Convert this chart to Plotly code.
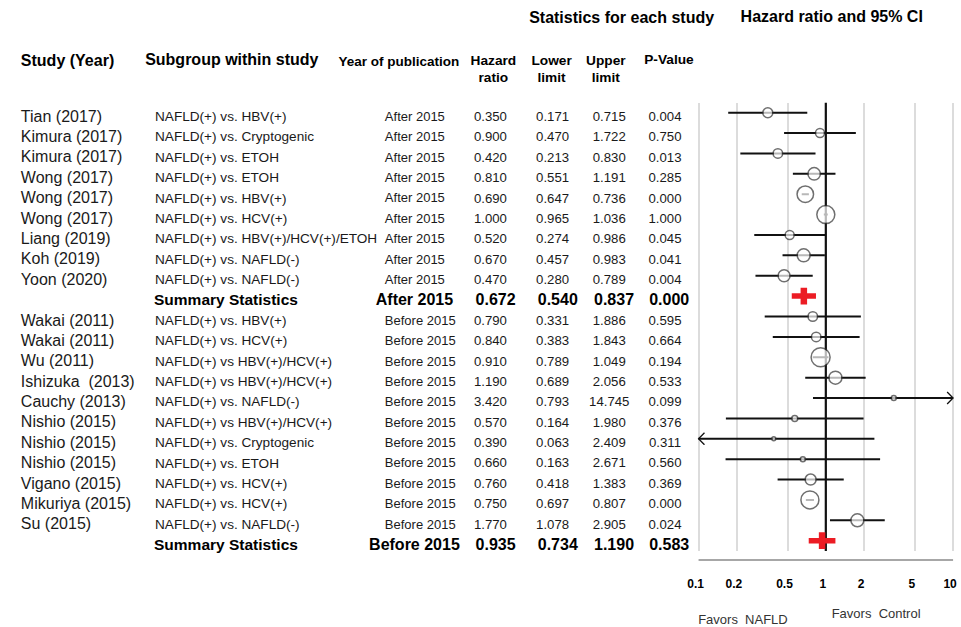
import math
import plotly.graph_objects as go

# ---------------- data ----------------
after_study = ["Tian (2017)", "Kimura (2017)", "Kimura (2017)", "Wong (2017)", "Wong (2017)",
               "Wong (2017)", "Liang (2019)", "Koh (2019)", "Yoon (2020)"]
after_subgroup = ["NAFLD(+) vs. HBV(+)", "NAFLD(+) vs. Cryptogenic", "NAFLD(+) vs. ETOH",
                  "NAFLD(+) vs. ETOH", "NAFLD(+) vs. HBV(+)", "NAFLD(+) vs. HCV(+)",
                  "NAFLD(+) vs. HBV(+)/HCV(+)/ETOH", "NAFLD(+) vs. NAFLD(-)", "NAFLD(+) vs. NAFLD(-)"]
after_hr = [0.350, 0.900, 0.420, 0.810, 0.690, 1.000, 0.520, 0.670, 0.470]
after_lower = [0.171, 0.470, 0.213, 0.551, 0.647, 0.965, 0.274, 0.457, 0.280]
after_upper = [0.715, 1.722, 0.830, 1.191, 0.736, 1.036, 0.986, 0.983, 0.789]
after_p = [0.004, 0.750, 0.013, 0.285, 0.000, 1.000, 0.045, 0.041, 0.004]

before_study = ["Wakai (2011)", "Wakai (2011)", "Wu (2011)", "Ishizuka  (2013)", "Cauchy (2013)",
                "Nishio (2015)", "Nishio (2015)", "Nishio (2015)", "Vigano (2015)",
                "Mikuriya (2015)", "Su (2015)"]
before_subgroup = ["NAFLD(+) vs. HBV(+)", "NAFLD(+) vs. HCV(+)", "NAFLD(+) vs HBV(+)/HCV(+)",
                   "NAFLD(+) vs HBV(+)/HCV(+)", "NAFLD(+) vs. NAFLD(-)", "NAFLD(+) vs HBV(+)/HCV(+)",
                   "NAFLD(+) vs. Cryptogenic", "NAFLD(+) vs. ETOH", "NAFLD(+) vs. HCV(+)",
                   "NAFLD(+) vs. HCV(+)", "NAFLD(+) vs. NAFLD(-)"]
before_hr = [0.790, 0.840, 0.910, 1.190, 3.420, 0.570, 0.390, 0.660, 0.760, 0.750, 1.770]
before_lower = [0.331, 0.383, 0.789, 0.689, 0.793, 0.164, 0.063, 0.163, 0.418, 0.697, 1.078]
before_upper = [1.886, 1.843, 1.049, 2.056, 14.745, 1.980, 2.409, 2.671, 1.383, 0.807, 2.905]
before_p = [0.595, 0.664, 0.194, 0.533, 0.099, 0.376, 0.311, 0.560, 0.369, 0.000, 0.024]

period_labels = ["After 2015", "Before 2015"]
summary_hr = [0.672, 0.935]
summary_lower = [0.540, 0.734]
summary_upper = [0.837, 1.190]
summary_p = [0.000, 0.583]

axis_ticks = [0.1, 0.2, 0.5, 1, 2, 5, 10]
axis_ticktext = ["0.1", "0.2", "0.5", "1", "2", "5", "10"]

# study weights shown as marker diameters (px)
after_marker_px = [10, 9, 9.5, 12.5, 16.5, 18, 9, 13, 12]
before_marker_px = [9.5, 9.5, 19, 13, 5, 6, 4, 5, 11, 18, 13]

# ---------------- layout geometry ----------------
W, H = 961, 627
X_LO, X_HI = 698, 956          # pixel span of the log axis (0.1 .. 10)
ROW0, ROW_H = 112.7, 20.38     # first row centre and row pitch (px)
TEXT_DROP = 5                  # table text sits slightly below the marker centre
PLOT_TOP, PLOT_BOT = 102.5, 551
AXIS_LINE_Y = 560
PAD_DEC = 0.01                 # small range padding so edge gridlines are kept
FONT = "Arial, Liberation Sans, sans-serif"
TXT = "#1a1a1a"

XMIN, XMAX = axis_ticks[0], axis_ticks[-1]
px_per_dec = (X_HI - X_LO) / (math.log10(XMAX) - math.log10(XMIN))

# assemble rows: studies, summary, studies, summary
rows = []
groups = [
    (after_study, after_subgroup, after_hr, after_lower, after_upper, after_p, after_marker_px),
    (before_study, before_subgroup, before_hr, before_lower, before_upper, before_p, before_marker_px),
]
for g, (st, sg, hr, lo, up, pv, sz) in enumerate(groups):
    for k in range(len(st)):
        rows.append(dict(kind="study", study=st[k], sub=sg[k], period=period_labels[g],
                         hr=hr[k], lo=lo[k], up=up[k], p=pv[k], size=sz[k]))
    rows.append(dict(kind="summary", period=period_labels[g], hr=summary_hr[g],
                     lo=summary_lower[g], up=summary_upper[g], p=summary_p[g]))

n_rows = len(rows)
fig = go.Figure()

# ---------------- forest plot (x / y) ----------------
# reference line at HR = 1
fig.add_trace(go.Scatter(x=[1, 1], y=[-0.5, n_rows - 0.4], mode="lines",
                         line=dict(color="#111111", width=2.2), hoverinfo="skip",
                         showlegend=False, cliponaxis=False))

# confidence interval whiskers (clipped to the axis) and open arrowheads where clipped
ci_x, ci_y, arr_x, arr_y = [], [], [], []
dx = 10 ** (6 / px_per_dec)
dy = 6 / ROW_H
for i, r in enumerate(rows):
    if r["kind"] != "study":
        continue
    a = max(r["lo"], XMIN)
    b = min(r["up"], XMAX)
    ci_x += [a, b, None]
    ci_y += [i, i, None]
    if r["up"] > XMAX:
        arr_x += [XMAX / dx, XMAX, XMAX / dx, None]
        arr_y += [i - dy, i, i + dy, None]
    if r["lo"] < XMIN:
        arr_x += [XMIN * dx, XMIN, XMIN * dx, None]
        arr_y += [i - dy, i, i + dy, None]
fig.add_trace(go.Scatter(x=ci_x, y=ci_y, mode="lines", line=dict(color="#111111", width=2),
                         hoverinfo="skip", showlegend=False, cliponaxis=False))
fig.add_trace(go.Scatter(x=arr_x, y=arr_y, mode="lines", line=dict(color="#111111", width=1.3),
                         hoverinfo="skip", showlegend=False, cliponaxis=False))

# point estimates
st_idx = [i for i, r in enumerate(rows) if r["kind"] == "study"]
fig.add_trace(go.Scatter(
    x=[rows[i]["hr"] for i in st_idx], y=st_idx, mode="markers",
    marker=dict(symbol="circle", size=[rows[i]["size"] for i in st_idx], color="white",
                line=dict(color="#333333", width=1.5)),
    hoverinfo="skip", showlegend=False, cliponaxis=False))

# pooled estimates: red cross (bar = CI, tick = HR)
sm_idx = [i for i, r in enumerate(rows) if r["kind"] == "summary"]
sx, sy = [], []
for i in sm_idx:
    sx += [rows[i]["lo"], rows[i]["up"], None]
    sy += [i, i, None]
fig.add_trace(go.Scatter(x=sx, y=sy, mode="lines", line=dict(color="#ec1c24", width=5.5),
                         hoverinfo="skip", showlegend=False))
fig.add_trace(go.Scatter(
    x=[rows[i]["hr"] for i in sm_idx], y=sm_idx, mode="markers",
    marker=dict(symbol="line-ns", size=12, line=dict(color="#ec1c24", width=6.5)),
    hoverinfo="skip", showlegend=False))

# ---------------- text table (x2 / y2: page pixel frame) ----------------


def row_px(i):
    return ROW0 + ROW_H * i + TEXT_DROP


def add_text(xs, ys, texts, size, pos="middle right", bold=False, color=TXT):
    fig.add_trace(go.Scatter(
        x=xs, y=ys, text=texts, mode="text", textposition=pos,
        textfont=dict(family=FONT, size=size, color=color,
                      weight="bold" if bold else "normal"),
        xaxis="x2", yaxis="y2", hoverinfo="skip", showlegend=False, cliponaxis=False))


# column headers
add_text([620], [19], ["Statistics for each study"], 16, "middle center", True, "#000")
add_text([833], [18], ["Hazard ratio and 95% CI"], 16, "middle center", True, "#000")
add_text([11], [62], ["Study (Year)"], 16, bold=True, color="#000")
add_text([137], [61], ["Subgroup within study"], 16, bold=True, color="#000")
add_text([333], [63], ["Year of publication"], 13.5, bold=True, color="#000")
add_text([490, 549, 604], [70, 70, 70], ["Hazard<br>ratio", "Lower<br>limit", "Upper<br>limit"],
         13.7, "middle center", True, "#000")
add_text([668], [61], ["P-Value"], 13.7, "middle center", True, "#000")

# study rows
ys = [row_px(i) for i in st_idx]
add_text([11] * len(st_idx), ys, [rows[i]["study"] for i in st_idx], 16)
add_text([147] * len(st_idx), ys, [rows[i]["sub"] for i in st_idx], 13.6)
add_text([380] * len(st_idx), ys, [rows[i]["period"] for i in st_idx], 13)
num_centres = [487, 550, 607.5, 664]
for c, key in zip(num_centres, ["hr", "lo", "up", "p"]):
    add_text([c] * len(st_idx), ys, [f"{rows[i][key]:.3f}" for i in st_idx], 13.2, "middle center")

# summary rows
ys = [row_px(i) for i in sm_idx]
add_text([146] * len(sm_idx), ys, ["Summary Statistics"] * len(sm_idx), 15.5, bold=True, color="#000")
add_text([410] * len(sm_idx), ys, [rows[i]["period"] for i in sm_idx], 16, "middle center",
         True, "#000")
num_lefts = [472, 535, 592, 648]
for c, key in zip(num_lefts, ["hr", "lo", "up", "p"]):
    add_text([c] * len(sm_idx), ys, [f"{rows[i][key]:.3f}" for i in sm_idx], 16, bold=True,
             color="#000")

# direction captions under the axis
add_text([743], [621], ["Favors  NAFLD"], 13, "middle center", color="#333")
add_text([878], [615], ["Favors  Control"], 13, "middle center", color="#333")

fig.update_layout(
    width=W, height=H, margin=dict(l=0, r=0, t=0, b=0),
    paper_bgcolor="white", plot_bgcolor="rgba(0,0,0,0)",
    shapes=[dict(type="line", xref="paper", yref="paper",
                 x0=X_LO / W, x1=X_HI / W, y0=1 - AXIS_LINE_Y / H, y1=1 - AXIS_LINE_Y / H,
                 line=dict(color="#8a8a8a", width=1.5))],
    xaxis=dict(type="log", range=[math.log10(XMIN) - PAD_DEC, math.log10(XMAX) + PAD_DEC],
               domain=[(X_LO - PAD_DEC * px_per_dec) / W, (X_HI + PAD_DEC * px_per_dec) / W],
               tickmode="array", tickvals=axis_ticks, ticktext=axis_ticktext,
               showgrid=True, gridcolor="#dcdcdc", gridwidth=1.5,
               zeroline=False, showline=False, ticklabelshift=-3,
               ticks="outside", ticklen=22, tickcolor="rgba(0,0,0,0)",
               tickfont=dict(family=FONT, size=12, color="#000", weight="bold")),
    yaxis=dict(range=[(PLOT_BOT - ROW0) / ROW_H, (PLOT_TOP - ROW0) / ROW_H],
               domain=[1 - PLOT_BOT / H, 1 - PLOT_TOP / H], visible=False, showgrid=False),
    xaxis2=dict(range=[0, W], domain=[0, 1], anchor="y2", visible=False, showgrid=False),
    yaxis2=dict(range=[H, 0], domain=[0, 1], anchor="x2", visible=False, showgrid=False),
)

fig.write_html("out.html")
